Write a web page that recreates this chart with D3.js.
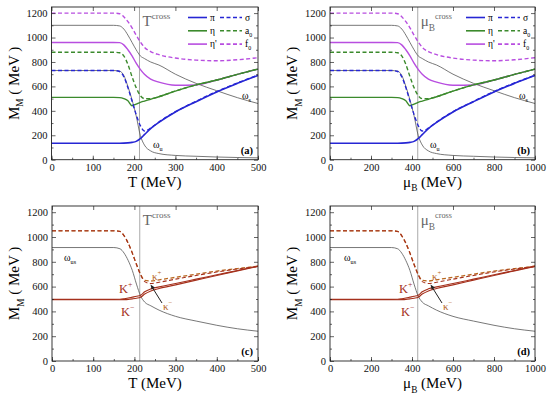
<!DOCTYPE html>
<html>
<head>
<meta charset="utf-8">
<script src="https://cdn.jsdelivr.net/npm/d3@7"></script>
<style>
  body { margin: 0; background: #fff; }
  svg text { font-family: "Liberation Serif", "Times New Roman", "DejaVu Serif", serif; }
</style>
</head>
<body>
<svg id="chart" width="550" height="396"></svg>
<script>
// x grids (temperature and baryon chemical potential, MeV)
const gridT  = [0, 150, 165, 175, 185, 195, 205, 215, 225, 240, 260, 300, 350, 400, 450, 500];
const gridMu = [0, 300, 330, 350, 370, 390, 410, 430, 450, 480, 520, 600, 700, 800, 900, 1000];

const crossT = 213;
const crossMu = 428;

// meson masses, panels (a) and (b)
const piM    = [135, 135, 135, 136, 138, 142, 150, 172, 205, 255, 305, 390, 475, 555, 625, 690];
const sigmaM = [730, 730, 722, 680, 590, 480, 370, 280, 235, 258, 308, 393, 478, 558, 628, 692];
const etaM   = [510, 510, 508, 500, 482, 442, 455, 470, 480, 495, 515, 562, 612, 652, 698, 742];
const a0M    = [880, 880, 875, 850, 780, 680, 590, 525, 500, 500, 516, 562, 612, 652, 698, 742];
const etapM  = [960, 960, 958, 940, 900, 850, 790, 740, 700, 660, 635, 610, 612, 652, 698, 742];
const f0M    = [1200, 1200, 1195, 1170, 1130, 1080, 1020, 965, 920, 885, 860, 832, 815, 810, 818, 835];
const omegaS = [1100, 1100, 1095, 1070, 1020, 960, 900, 850, 828, 800, 775, 700, 625, 565, 508, 460];
const omegaU = [730, 730, 725, 690, 600, 490, 360, 200, 120, 72, 50, 35, 28, 22, 18, 15];

// kaon masses, panels (c) and (d)
const kPlus    = [497, 497, 498, 502, 508, 515, 522, 530, 558, 582, 598, 625, 660, 695, 730, 765];
const kMinus   = [494, 494, 494, 495, 497, 501, 506, 514, 540, 565, 585, 614, 652, 690, 727, 763];
const kapPlus  = [1050, 1050, 1045, 1010, 950, 870, 780, 700, 650, 645, 655, 675, 700, 725, 745, 765];
const kapMinus = [1050, 1050, 1045, 1010, 950, 870, 778, 695, 640, 625, 635, 660, 690, 718, 742, 762];
const omegaUS  = [915, 915, 905, 870, 810, 730, 620, 525, 475, 445, 410, 360, 322, 288, 260, 240];

const yTicks = [0, 200, 400, 600, 800, 1000, 1200];
const tTicks = [0, 100, 200, 300, 400, 500];
const muTicks = [0, 200, 400, 600, 800, 1000];

const BLUE = "#2626d4", GREEN = "#3b8a2c", VIOLET = "#b84ee0", GRAY = "#555";
const KRED = "#a5301c", KORANGE = "#b8661e";
const DASH = "4,2.5";
const SERIF = '"Liberation Serif", "Times New Roman", "DejaVu Serif", serif';

const svg = d3.select("#chart");

// helper: text with optional sub / superscript pieces
function richText(g, x, y, parts, opts) {
    let t = g.append("text").attr("x", x).attr("y", y)
        .attr("font-family", SERIF)
        .attr("font-size", opts.size).attr("fill", opts.fill || "#000")
        .attr("text-anchor", opts.anchor || "start");
    if (opts.transform) t.attr("transform", opts.transform);
    let shift = 0;
    parts.forEach(p => {
        let s = t.append("tspan").text(p.t);
        let target = p.sub ? opts.size * 0.3 : p.sup ? -opts.size * 0.45 : 0;
        if (p.sub || p.sup) s.attr("font-size", opts.size * (p.scale || 0.62));
        if (target !== shift) { s.attr("dy", target - shift); shift = target; }
    });
    return t;
}

function drawPanel(o) {
    let x = d3.scaleLinear().domain([0, o.xMax]).range([o.left, o.right]);
    let y = d3.scaleLinear().domain([0, 1250]).range([o.bottom, o.top]);
    let g = svg.append("g");

    // crossover line
    g.append("line")
        .attr("x1", x(o.cross)).attr("x2", x(o.cross))
        .attr("y1", o.top).attr("y2", o.bottom)
        .attr("stroke", "#aaa").attr("stroke-width", 1);

    // curves
    let line = d3.line().x((d, i) => x(o.grid[i])).y(d => y(d)).curve(d3.curveMonotoneX);
    o.series.forEach(s => {
        g.append("path")
            .datum(s.values)
            .attr("d", line)
            .attr("fill", "none")
            .attr("stroke", s.color)
            .attr("stroke-width", s.width)
            .attr("stroke-dasharray", s.dash || null);
    });

    // axes
    let fmt = d3.format("d");
    g.append("g").attr("transform", `translate(0,${o.bottom})`)
        .call(d3.axisBottom(x).tickValues(o.xTicks).tickFormat(fmt).tickSize(-4).tickPadding(4));
    g.append("g").attr("transform", `translate(0,${o.bottom})`)
        .call(d3.axisBottom(x).tickValues(d3.range(0, o.xMax + 1, o.xMinor)).tickSize(-2).tickFormat(""));
    g.append("g").attr("transform", `translate(${o.left},0)`)
        .call(d3.axisLeft(y).tickValues(yTicks).tickFormat(fmt).tickSize(-4).tickPadding(4));
    g.append("g").attr("transform", `translate(${o.left},0)`)
        .call(d3.axisLeft(y).tickValues(d3.range(100, 1250, 200)).tickSize(-2).tickFormat(""));
    g.append("g").attr("transform", `translate(0,${o.top})`)
        .call(d3.axisTop(x).tickValues(o.xTicks).tickSize(-4).tickFormat(""));
    g.append("g").attr("transform", `translate(${o.right},0)`)
        .call(d3.axisRight(y).tickValues(yTicks).tickSize(-4).tickFormat(""));
    g.append("g").attr("transform", `translate(${o.right},0)`)
        .call(d3.axisRight(y).tickValues(d3.range(100, 1250, 200)).tickSize(-2).tickFormat(""));
    g.selectAll(".domain").remove();
    g.selectAll("g").attr("font-family", SERIF);
    g.selectAll(".tick line").attr("stroke", "#222").attr("stroke-width", 0.7);
    g.selectAll(".tick text").attr("font-size", 10.5)
        .attr("font-family", SERIF).attr("fill", "#111");

    g.append("rect")
        .attr("x", o.left).attr("y", o.top)
        .attr("width", o.right - o.left).attr("height", o.bottom - o.top)
        .attr("fill", "none").attr("stroke", "#222").attr("stroke-width", 0.9);

    // panel tag
    g.append("text").attr("x", o.right - 5).attr("y", o.bottom - 6)
        .attr("font-family", SERIF)
        .attr("text-anchor", "end").attr("font-size", 10.5).attr("font-weight", "bold")
        .text(o.tag);

    // axis titles
    richText(g, (o.left + o.right) / 2, o.bottom + 27, o.xTitle, { size: 15, anchor: "middle" });
    let cy = (o.top + o.bottom) / 2;
    richText(g, 0, 0, [{ t: "M" }, { t: "M", sub: true }, { t: " ( MeV )" }],
        { size: 15, anchor: "middle", transform: `translate(${o.left - 33},${cy}) rotate(-90)` });

    // crossover label
    richText(g, x(o.cross) + 3, o.top + 19, o.crossLabel, { size: 15, fill: "#666" });

    return { g, x, y };
}

function legend(g, x0, y0) {
    let rows = [
        { c: BLUE, a: "π", b: [{ t: "σ" }] },
        { c: GREEN, a: "η", b: [{ t: "a" }, { t: "0", sub: true }] },
        { c: VIOLET, a: "η'", b: [{ t: "f" }, { t: "0", sub: true }] }
    ];
    rows.forEach((r, i) => {
        let yy = y0 + i * 13.3;
        g.append("line").attr("x1", x0).attr("x2", x0 + 19).attr("y1", yy).attr("y2", yy)
            .attr("stroke", r.c).attr("stroke-width", 1.6);
        richText(g, x0 + 22, yy + 3, [{ t: r.a }], { size: 9.5 });
        g.append("line").attr("x1", x0 + 32).attr("x2", x0 + 54).attr("y1", yy).attr("y2", yy)
            .attr("stroke", r.c).attr("stroke-width", 1.6).attr("stroke-dasharray", DASH);
        richText(g, x0 + 57, yy + 3, r.b, { size: 9.5 });
    });
}

const mesonSeries = [
    { values: omegaS, color: GRAY, width: 0.8 },
    { values: omegaU, color: GRAY, width: 0.8 },
    { values: f0M, color: VIOLET, width: 1.4, dash: DASH },
    { values: etapM, color: VIOLET, width: 1.4 },
    { values: a0M, color: GREEN, width: 1.4, dash: DASH },
    { values: etaM, color: GREEN, width: 1.4 },
    { values: sigmaM, color: BLUE, width: 1.4, dash: DASH },
    { values: piM, color: BLUE, width: 1.6 }
];
const kaonSeries = [
    { values: omegaUS, color: GRAY, width: 0.8 },
    { values: kapPlus, color: KORANGE, width: 1.3, dash: DASH },
    { values: kapMinus, color: KRED, width: 1.1, dash: DASH },
    { values: kPlus, color: KRED, width: 1.1 },
    { values: kMinus, color: KRED, width: 1.1 }
];

const tTitle = [{ t: "T (MeV)" }];
const muTitle = [{ t: "μ" }, { t: "B", sub: true }, { t: " (MeV)" }];
const tCross = [{ t: "T" }, { t: "cross", sup: true, scale: 0.6 }];
const muCross = [{ t: "μ" }, { t: "B", sub: true }, { t: "cross", sup: true, scale: 0.55 }];

// (a)
let pa = drawPanel({ left: 51.5, right: 258, top: 7, bottom: 159.7, xMax: 500, xTicks: tTicks, xMinor: 50,
    grid: gridT, cross: crossT, series: mesonSeries, tag: "(a)", xTitle: tTitle, crossLabel: tCross });
legend(pa.g, 188, 17.5);
richText(pa.g, 242, 99, [{ t: "ω" }, { t: "s", sub: true }], { size: 10 });
richText(pa.g, 153, 148, [{ t: "ω" }, { t: "u", sub: true }], { size: 10 });

// (b)
let pb = drawPanel({ left: 330, right: 535, top: 7, bottom: 159.7, xMax: 1000, xTicks: muTicks, xMinor: 100,
    grid: gridMu, cross: crossMu, series: mesonSeries, tag: "(b)", xTitle: muTitle, crossLabel: muCross });
legend(pb.g, 466, 17.5);
richText(pb.g, 519, 99, [{ t: "ω" }, { t: "s", sub: true }], { size: 10 });
richText(pb.g, 430, 148, [{ t: "ω" }, { t: "u", sub: true }], { size: 10 });

function kaonLabels(p, dx) {
    let g = p.g;
    richText(g, 64 + dx, 261, [{ t: "ω" }, { t: "us", sub: true }], { size: 10 });
    richText(g, 119 + dx, 293, [{ t: "K" }, { t: "+", sup: true }], { size: 12.5, fill: KRED });
    richText(g, 121 + dx, 316, [{ t: "K" }, { t: "−", sup: true }], { size: 12.5, fill: KRED });
    richText(g, 152 + dx, 280, [{ t: "κ" }, { t: "+", sup: true }], { size: 11, fill: KORANGE });
    richText(g, 163 + dx, 310, [{ t: "κ" }, { t: "−", sup: true }], { size: 11, fill: KORANGE });
    g.append("line").attr("x1", 162 + dx).attr("y1", 303).attr("x2", 152 + dx).attr("y2", 287)
        .attr("stroke", "#222").attr("stroke-width", 1);
    g.append("path").attr("d", `M${150.5 + dx},${284.5} l1.2,5.2 l3.2,-2.1 z`).attr("fill", "#222");
}

// (c)
let pc = drawPanel({ left: 52, right: 258, top: 206, bottom: 361, xMax: 500, xTicks: tTicks, xMinor: 50,
    grid: gridT, cross: crossT, series: kaonSeries, tag: "(c)", xTitle: tTitle, crossLabel: tCross });
kaonLabels(pc, 0);

// (d)
let pd = drawPanel({ left: 330, right: 535, top: 206, bottom: 361, xMax: 1000, xTicks: muTicks, xMinor: 100,
    grid: gridMu, cross: crossMu, series: kaonSeries, tag: "(d)", xTitle: muTitle, crossLabel: muCross });
kaonLabels(pd, 280);
</script>
</body>
</html>
